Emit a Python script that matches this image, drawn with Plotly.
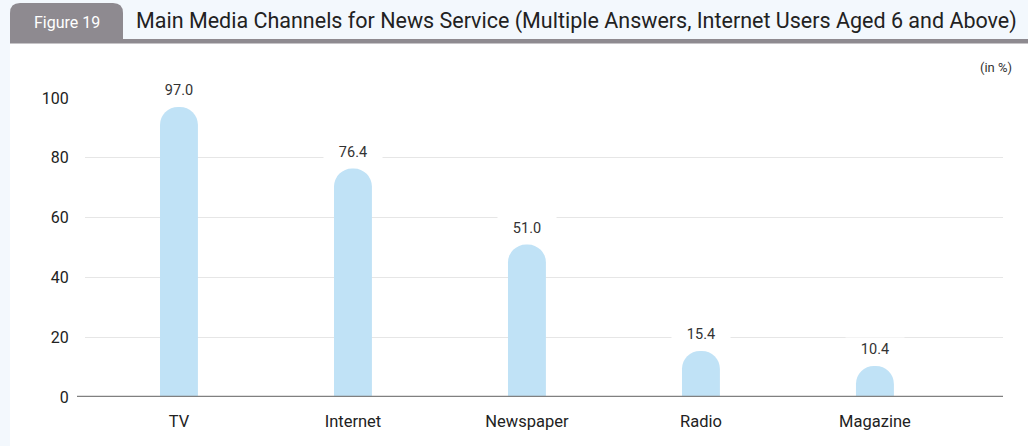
import plotly.graph_objects as go

categories = ["TV", "Internet", "Newspaper", "Radio", "Magazine"]
values = [97.0, 76.4, 51.0, 15.4, 10.4]
value_labels = ["97.0", "76.4", "51.0", "15.4", "10.4"]
y_ticks = [0, 20, 40, 60, 80, 100]

W, H = 1028, 446
FONT = "Roboto"

def px(x):
    return x / W

def py(y):
    return 1 - y / H

fig = go.Figure()
fig.add_trace(go.Bar(
    x=list(range(len(categories))), y=values,
    width=0.218, marker=dict(color="#c0e2f6", line=dict(width=0)),
    hoverinfo="skip",
))

for i, (v, t) in enumerate(zip(values, value_labels)):
    fig.add_annotation(x=i, y=v, xref="x", yref="y", text=t, showarrow=False,
                       yshift=16, bgcolor="white", borderpad=3,
                       font=dict(family=FONT, size=14.5, color="#333333"),
                       width=52)

shapes = [
    dict(type="rect", xref="paper", yref="paper", x0=px(10), x1=1, y0=0, y1=py(43),
         fillcolor="white", line=dict(width=0), layer="below"),
    dict(type="rect", xref="paper", yref="paper", x0=px(10), x1=1, y0=py(43.5), y1=py(39),
         fillcolor="#8e8a90", line=dict(width=0), layer="below"),
    dict(type="path", xref="paper", yref="paper",
         path=(f"M {px(10)},{py(40)} L {px(10)},{py(13)} Q {px(10)},{py(3)} {px(20)},{py(3)} "
               f"L {px(113)},{py(3)} Q {px(123)},{py(3)} {px(123)},{py(13)} L {px(123)},{py(40)} Z"),
         fillcolor="#8e8a90", line=dict(width=0), layer="below"),
    dict(type="line", xref="paper", yref="y", x0=px(77), x1=px(1003), y0=0, y1=0,
         line=dict(color="#808080", width=2.5)),
]

annotations_extra = [
    dict(x=px(67), y=py(22), xref="paper", yref="paper", text="Figure 19", showarrow=False,
         font=dict(family=FONT, size=16, color="white"), xanchor="center", yanchor="middle"),
    dict(x=px(134), y=py(21), xref="paper", yref="paper",
         text="Main Media Channels for News Service (Multiple Answers, Internet Users Aged 6 and Above)",
         showarrow=False, font=dict(family=FONT, size=21.5, color="#222222"),
         xanchor="left", yanchor="middle"),
    dict(x=px(1014), y=py(67), xref="paper", yref="paper", text="(in %)", showarrow=False,
         font=dict(family=FONT, size=13, color="#333333"), xanchor="right", yanchor="middle"),
]
for a in annotations_extra:
    fig.add_annotation(**a)

fig.update_layout(
    template="none",
    width=W, height=H,
    margin=dict(l=0, r=0, t=0, b=0, pad=0),
    paper_bgcolor="#f3f8fd", plot_bgcolor="rgba(0,0,0,0)",
    showlegend=False, barcornerradius="50%",
    shapes=shapes,
    font=dict(family=FONT, color="#222222"),
    xaxis=dict(domain=[px(85), px(1003)], range=[-0.540, 4.736], automargin=False,
               tickmode="array", tickvals=list(range(len(categories))), ticktext=categories,
               showgrid=False, zeroline=False, showline=False,
               ticks="outside", ticklen=9, tickcolor="rgba(0,0,0,0)",
               tickfont=dict(family=FONT, size=16.5, color="#222222")),
    yaxis=dict(domain=[py(397), py(98)], range=[0, 100], automargin=False,
               tickmode="array", tickvals=y_ticks,
               showgrid=True, gridcolor="#e6e6e6", gridwidth=1,
               zeroline=False, showline=False,
               ticks="outside", ticklen=12, tickcolor="rgba(0,0,0,0)",
               tickfont=dict(family=FONT, size=16, color="#222222")),
)

post = "document.documentElement.style.margin='0';document.body.style.margin='0';document.documentElement.style.overflow='hidden';"
fig.write_html("out.html", post_script=post, config={"displayModeBar": False})
